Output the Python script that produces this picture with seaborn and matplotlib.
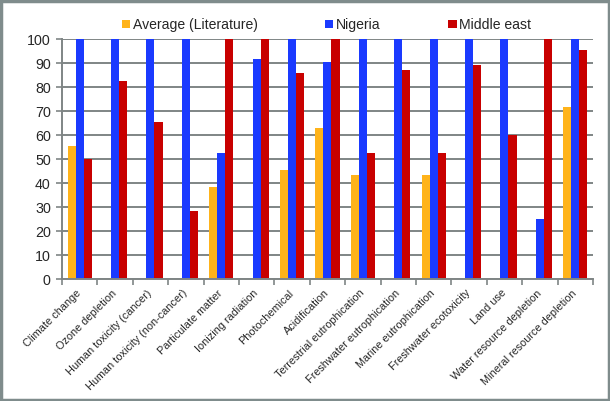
import numpy as np
import pandas as pd
import seaborn as sns
import matplotlib.pyplot as plt
from matplotlib.patches import Rectangle

categories = ["Climate change", "Ozone depletion", "Human toxicity (cancer)",
              "Human toxicity (non-cancer)", "Particulate matter", "Ionizing radiation",
              "Photochemical", "Acidification", "Terrestrial eutrophication",
              "Freshwater eutrophication", "Marine eutrophication", "Freshwater ecotoxicity",
              "Land use", "Water resource depletion", "Mineral resource depletion"]
average = [55.5, 0, 0, 0, 38.5, 0, 45.5, 63, 43.5, 0, 43.5, 0, 0, 0, 71.5]
nigeria = [100, 100, 100, 100, 52.5, 91.5, 100, 90.5, 100, 100, 100, 100, 100, 25, 100]
middle_east = [50, 82.5, 65.5, 28.5, 100, 100, 86, 100, 52.5, 87, 52.5, 89, 60, 100, 95.5]
series = ["Average (Literature)", "Nigeria", "Middle east"]
colors = ["#FFB31A", "#1A3AFF", "#C80000"]

df = pd.DataFrame({
    "category": categories * 3,
    "value": average + nigeria + middle_east,
    "series": [series[0]] * 15 + [series[1]] * 15 + [series[2]] * 15,
})

sns.set_style("white")
plt.rcParams['font.family'] = ['Liberation Sans', 'DejaVu Sans']

fig = plt.figure(figsize=(6.10, 4.01), dpi=100)
ax = fig.add_axes([0.1016, 0.3042, 0.8705, 0.5985])

sns.barplot(data=df, x="category", y="value", hue="series", order=categories,
            hue_order=series, palette=colors, width=0.68, saturation=1,
            edgecolor="none", ax=ax, legend=True)

ax.set_ylim(0, 100)
ax.set_xlim(-0.5, 14.5)
ax.set_yticks(np.arange(0, 101, 10))
ax.yaxis.grid(True, color="#7f8585", linewidth=1.4)
ax.set_axisbelow(True)
ax.set_xlabel("")
ax.set_ylabel("")
for s in ["top", "right"]:
    ax.spines[s].set_visible(False)
for s in ["left", "bottom"]:
    ax.spines[s].set_color("#7f8585")
    ax.spines[s].set_linewidth(1.4)

ax.tick_params(axis="y", labelsize=10.3, length=4, color="#7f8585", width=1.2, left=True, pad=4)
ax.set_xticks(np.arange(-0.5, 15, 1), minor=True)
ax.tick_params(axis="x", which="major", length=0, labelsize=7.8, pad=9)
ax.tick_params(axis="x", which="minor", length=4, color="#7f8585", width=1.2, bottom=True)
plt.setp(ax.get_xticklabels(), rotation=45, ha="right", va="center", rotation_mode="anchor")

handles, labels = ax.get_legend_handles_labels()
ax.get_legend().remove()
fig.legend(handles, labels, loc="center", bbox_to_anchor=(326.5 / 610, 0.9377), ncol=3,
           frameon=False, fontsize=10.1, handlelength=0.6, handleheight=0.6,
           handletextpad=0.2, columnspacing=4.8, borderpad=0)

fig.patches.append(Rectangle((0.002, 0.003), 0.996, 0.994, transform=fig.transFigure,
                             fill=False, edgecolor="#7f8c8c", linewidth=2.5))

fig.savefig("out.png", dpi=100)
